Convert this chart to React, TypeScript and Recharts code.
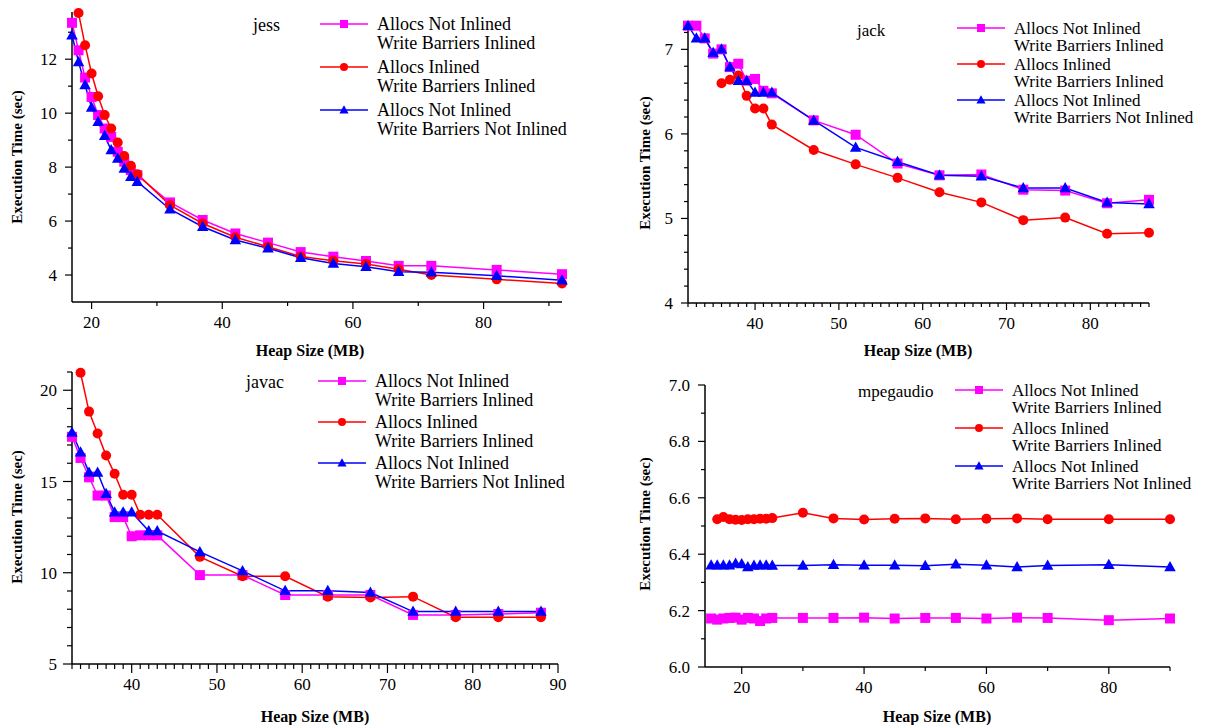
import React from "react";
import { LineChart, Line, XAxis, YAxis } from "recharts";

const FONT = '"Liberation Serif", "Times New Roman", serif';

// ---- jess ----
const jessHeap = [17, 18, 19, 20, 21, 22, 23, 24, 25, 26, 27, 32, 37, 42, 47, 52, 57, 62, 67, 72, 82, 92];
const jessNotInlWbInl = [13.35, 12.33, 11.32, 10.6, 9.93, 9.43, 9.12, 8.57, 8.2, 7.89, 7.7, 6.69, 6.04, 5.54, 5.2, 4.85, 4.68, 4.52, 4.34, 4.34, 4.19, 4.03];
const jessInlWbInl = [null, 13.71, 12.52, 11.47, 10.63, 9.93, 9.43, 8.91, 8.41, 8.05, 7.74, 6.59, 5.91, 5.4, 5.05, 4.69, 4.53, 4.41, 4.21, 4.0, 3.84, 3.69];
const jessNotInlWbNotInl = [12.89, 11.9, 11.04, 10.21, 9.68, 9.16, 8.63, 8.32, 7.95, 7.64, 7.46, 6.44, 5.79, 5.3, 4.99, 4.64, 4.43, 4.31, 4.12, 4.1, 3.97, 3.81];

// ---- jack ----
const jackHeap = [32, 33, 34, 35, 36, 37, 38, 39, 40, 41, 42, 47, 52, 57, 62, 67, 72, 77, 82, 87];
const jackNotInlWbInl = [7.28, 7.28, 7.13, 6.95, 7.0, 6.79, 6.83, 6.63, 6.65, 6.51, 6.48, 6.16, 5.99, 5.65, 5.51, 5.52, 5.34, 5.33, 5.18, 5.22];
const jackInlWbInl = [null, null, null, null, 6.6, 6.64, 6.69, 6.45, 6.3, 6.3, 6.11, 5.81, 5.64, 5.48, 5.31, 5.19, 4.98, 5.01, 4.82, 4.83];
const jackNotInlWbNotInl = [7.28, 7.13, 7.13, 6.96, 7.0, 6.79, 6.63, 6.63, 6.49, 6.49, 6.49, 6.16, 5.84, 5.67, 5.51, 5.5, 5.36, 5.36, 5.19, 5.17];

// ---- javac ----
const javacHeap = [33, 34, 35, 36, 37, 38, 39, 40, 41, 42, 43, 48, 53, 58, 63, 68, 73, 78, 83, 88];
const javacNotInlWbInl = [17.45, 16.29, 15.23, 14.23, 14.23, 13.05, 13.05, 12.0, 12.05, 12.05, 12.05, 9.87, 9.87, 8.78, 8.78, 8.78, 7.69, 7.69, 7.74, 7.81];
const javacInlWbInl = [null, 20.96, 18.83, 17.63, 16.42, 15.42, 14.27, 14.27, 13.18, 13.18, 13.18, 10.87, 9.81, 9.81, 8.69, 8.65, 8.69, 7.56, 7.56, 7.56];
const javacNotInlWbNotInl = [17.69, 16.6, 15.5, 15.5, 14.33, 13.32, 13.32, 13.32, null, 12.29, 12.29, 11.14, 10.1, 9.01, 9.01, 8.92, 7.87, 7.87, 7.87, 7.87];

// ---- mpegaudio ----
const mpegHeap = [15, 16, 17, 18, 19, 20, 21, 22, 23, 24, 25, 30, 35, 40, 45, 50, 55, 60, 65, 70, 80, 90];
const mpegNotInlWbInl = [6.172, 6.168, 6.172, 6.174, 6.175, 6.168, 6.174, 6.172, 6.163, 6.172, 6.174, 6.174, 6.174, 6.175, 6.172, 6.174, 6.174, 6.172, 6.175, 6.174, 6.166, 6.172];
const mpegInlWbInl = [null, 6.524, 6.532, 6.524, 6.522, 6.521, 6.524, 6.524, 6.526, 6.526, 6.528, 6.547, 6.527, 6.523, 6.526, 6.527, 6.524, 6.526, 6.527, 6.524, 6.524, 6.524];
const mpegNotInlWbNotInl = [6.361, 6.361, 6.361, 6.361, 6.367, 6.365, 6.355, 6.36, 6.361, 6.361, 6.36, 6.36, 6.363, 6.361, 6.361, 6.359, 6.364, 6.361, 6.355, 6.36, 6.363, 6.355];

const SERIES = [
  { key: "notInlWbInl", label: ["Allocs Not Inlined", "Write Barriers Inlined"], color: "#ff00ff", shape: "square" },
  { key: "inlWbInl", label: ["Allocs Inlined", "Write Barriers Inlined"], color: "#ff0000", shape: "circle" },
  { key: "notInlWbNotInl", label: ["Allocs Not Inlined", "Write Barriers Not Inlined"], color: "#0000ff", shape: "triangle" },
];

function buildRows(heap: number[], a: (number | null)[], b: (number | null)[], c: (number | null)[]) {
  return heap.map((h, i) => ({ heap: h, notInlWbInl: a[i], inlWbInl: b[i], notInlWbNotInl: c[i] }));
}

function range(start: number, end: number, step: number) {
  const out: number[] = [];
  for (let v = start; v <= end + 1e-9; v += step) out.push(Math.round(v * 1000) / 1000);
  return out;
}

const isOnStep = (v: number, step: number) => Math.abs(v / step - Math.round(v / step)) < 1e-6;

function drawMarker(shape: string, color: string, cx: number, cy: number, s: number, key?: string) {
  if (shape === "square")
    return <rect key={key} x={cx - s} y={cy - s} width={s * 2} height={s * 2} fill={color} />;
  if (shape === "circle") return <circle key={key} cx={cx} cy={cy} r={s} fill={color} />;
  return (
    <polygon
      key={key}
      points={`${cx},${cy - s * 1.2} ${cx - s * 1.15},${cy + s * 0.85} ${cx + s * 1.15},${cy + s * 0.85}`}
      fill={color}
    />
  );
}

function markerDot(shape: string, color: string) {
  return (props: any) => {
    const { cx, cy, index } = props;
    if (cx == null || cy == null || props.value == null) return <g key={`e-${index}`} />;
    return drawMarker(shape, color, cx, cy, 5, `d-${index}`);
  };
}

type PanelConfig = {
  left: number;
  top: number;
  width: number;
  height: number;
  margin: { top: number; right: number; bottom: number; left: number };
  rows: any[];
  xDomain: [number, number];
  xTicks: number[];
  xLabelStep: number;
  yDomain: [number, number];
  yTicks: number[];
  yLabelStep: number;
  yDigits: number;
  majorLen: number;
  minorLen: number;
  title: string;
  titleX: number;
  titleY: number;
  legendX: number;
  legendY: number;
  legendRow: number;
  legendLine: number;
  legendFont: number;
  xTitle: [number, number];
  yTitle: [number, number];
};

function Panel(p: PanelConfig) {
  const xTick = (props: any) => {
    const { x, y, payload, index } = props;
    const major = isOnStep(payload.value, p.xLabelStep);
    return (
      <g key={`xt-${index}`}>
        <line x1={x} x2={x} y1={y} y2={y + (major ? p.majorLen : p.minorLen)} stroke="#000" strokeWidth={1.2} />
        {major && (
          <text x={x} y={y + 26} textAnchor="middle" fontFamily={FONT} fontSize={17} fill="#000">
            {payload.value}
          </text>
        )}
      </g>
    );
  };
  const yTick = (props: any) => {
    const { x, y, payload, index } = props;
    const major = isOnStep(payload.value, p.yLabelStep);
    return (
      <g key={`yt-${index}`}>
        <line x1={x - (major ? p.majorLen : p.minorLen)} x2={x} y1={y} y2={y} stroke="#000" strokeWidth={1.2} />
        {major && (
          <text x={x - 15} y={y + 6} textAnchor="end" fontFamily={FONT} fontSize={17} fill="#000">
            {payload.value.toFixed(p.yDigits)}
          </text>
        )}
      </g>
    );
  };

  return (
    <div style={{ position: "absolute", left: p.left, top: p.top, width: p.width, height: p.height }}>
      <LineChart width={p.width} height={p.height} data={p.rows} margin={p.margin}>
        <XAxis
          type="number"
          dataKey="heap"
          domain={p.xDomain}
          ticks={p.xTicks}
          interval={0}
          height={30}
          tickSize={0}
          tickMargin={0}
          tickLine={false}
          tick={xTick}
          axisLine={{ stroke: "#000", strokeWidth: 1.5 }}
        />
        <YAxis
          type="number"
          domain={p.yDomain}
          ticks={p.yTicks}
          interval={0}
          width={50}
          tickSize={0}
          tickMargin={0}
          tickLine={false}
          tick={yTick}
          axisLine={{ stroke: "#000", strokeWidth: 1.5 }}
        />
        {SERIES.map((s) => (
          <Line
            key={s.key}
            type="linear"
            dataKey={s.key}
            stroke={s.color}
            strokeWidth={1.5}
            dot={markerDot(s.shape, s.color)}
            activeDot={false}
            connectNulls
            isAnimationActive={false}
          />
        ))}
      </LineChart>
      <svg
        width={p.width}
        height={p.height}
        style={{ position: "absolute", left: 0, top: 0, pointerEvents: "none" }}
        fontFamily={FONT}
      >
        <text x={p.titleX} y={p.titleY} dominantBaseline="central" fontSize={p.legendFont} fill="#000">
          {p.title}
        </text>
        {SERIES.map((s, i) => {
          const y0 = p.legendY + i * p.legendRow;
          return (
            <g key={s.key}>
              <line x1={p.legendX} x2={p.legendX + 48} y1={y0} y2={y0} stroke={s.color} strokeWidth={1.5} />
              {drawMarker(s.shape, s.color, p.legendX + 24, y0, 4)}
              <text x={p.legendX + 57} y={y0} dominantBaseline="central" fontSize={p.legendFont} fill="#000">
                {s.label[0]}
              </text>
              <text
                x={p.legendX + 57}
                y={y0 + p.legendLine}
                dominantBaseline="central"
                fontSize={p.legendFont}
                fill="#000"
              >
                {s.label[1]}
              </text>
            </g>
          );
        })}
        <text
          x={p.xTitle[0]}
          y={p.xTitle[1]}
          textAnchor="middle"
          dominantBaseline="central"
          fontSize={16}
          fontWeight="bold"
          fill="#000"
        >
          Heap Size (MB)
        </text>
        <text
          x={p.yTitle[0]}
          y={p.yTitle[1]}
          textAnchor="middle"
          dominantBaseline="central"
          fontSize={15}
          fontWeight="bold"
          fill="#000"
          transform={`rotate(-90 ${p.yTitle[0]} ${p.yTitle[1]})`}
        >
          Execution Time (sec)
        </text>
      </svg>
    </div>
  );
}

export default function App() {
  return (
    <div style={{ position: "absolute", left: 0, top: 0, width: 1205, height: 725, background: "#fff" }}>
      <Panel
        left={0}
        top={0}
        width={600}
        height={360}
        margin={{ top: 12, right: 38, bottom: 28, left: 22 }}
        rows={buildRows(jessHeap, jessNotInlWbInl, jessInlWbInl, jessNotInlWbNotInl)}
        xDomain={[17, 92]}
        xTicks={range(20, 90, 10)}
        xLabelStep={20}
        yDomain={[3, 13.75]}
        yTicks={range(4, 13, 1)}
        yLabelStep={2}
        yDigits={0}
        majorLen={7}
        minorLen={4}
        title="jess"
        titleX={253}
        titleY={25}
        legendX={320}
        legendY={24}
        legendRow={43}
        legendLine={19}
        legendFont={18}
        xTitle={[310, 350]}
        yTitle={[17, 157]}
      />
      <Panel
        left={600}
        top={0}
        width={605}
        height={360}
        margin={{ top: 24, right: 56, bottom: 27, left: 38 }}
        rows={buildRows(jackHeap, jackNotInlWbInl, jackInlWbInl, jackNotInlWbNotInl)}
        xDomain={[32, 87]}
        xTicks={range(32, 87, 1)}
        xLabelStep={10}
        yDomain={[4, 7.3]}
        yTicks={range(4, 7.2, 0.2)}
        yLabelStep={1}
        yDigits={0}
        majorLen={7}
        minorLen={4}
        title="jack"
        titleX={257}
        titleY={30}
        legendX={357}
        legendY={28}
        legendRow={36}
        legendLine={17}
        legendFont={17}
        xTitle={[318, 350]}
        yTitle={[45, 163]}
      />
      <Panel
        left={0}
        top={360}
        width={600}
        height={365}
        margin={{ top: 12, right: 42, bottom: 31, left: 22 }}
        rows={buildRows(javacHeap, javacNotInlWbInl, javacInlWbInl, javacNotInlWbNotInl)}
        xDomain={[33, 90]}
        xTicks={range(33, 90, 1)}
        xLabelStep={10}
        yDomain={[5, 21]}
        yTicks={range(5, 21, 1)}
        yLabelStep={5}
        yDigits={0}
        majorLen={9}
        minorLen={5}
        title="javac"
        titleX={246}
        titleY={22}
        legendX={318}
        legendY={21}
        legendRow={41}
        legendLine={19}
        legendFont={18}
        xTitle={[315, 356]}
        yTitle={[17, 157]}
      />
      <Panel
        left={600}
        top={360}
        width={605}
        height={365}
        margin={{ top: 25, right: 35, bottom: 28, left: 55 }}
        rows={buildRows(mpegHeap, mpegNotInlWbInl, mpegInlWbInl, mpegNotInlWbNotInl)}
        xDomain={[14, 90]}
        xTicks={range(20, 90, 10)}
        xLabelStep={20}
        yDomain={[6, 7]}
        yTicks={range(6, 7, 0.1)}
        yLabelStep={0.2}
        yDigits={1}
        majorLen={7}
        minorLen={4}
        title="mpegaudio"
        titleX={258}
        titleY={31}
        legendX={355}
        legendY={30}
        legendRow={38}
        legendLine={17}
        legendFont={17}
        xTitle={[337, 356]}
        yTitle={[45, 164]}
      />
    </div>
  );
}
